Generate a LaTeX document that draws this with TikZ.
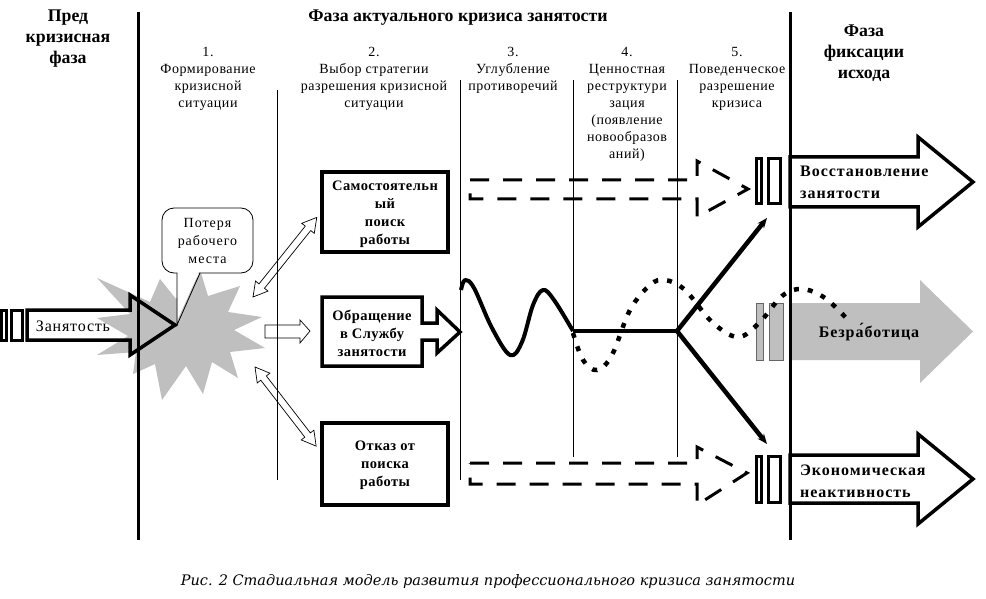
\documentclass[tikz,border=0pt]{standalone}
\usepackage{fontspec}
\setmainfont{Liberation Serif}
\newfontfamily\capfont{DejaVu Serif}
\usetikzlibrary{arrows.meta}
\begin{document}
\begin{tikzpicture}[x=1pt,y=-1pt,
  hdr/.style={font=\bfseries\fontsize{17.8}{21}\selectfont, align=center, inner sep=0},
  lbl/.style={font=\fontsize{14}{17}\selectfont\addfontfeatures{LetterSpace=4}, align=center, inner sep=0, anchor=north},
  boxtxt/.style={font=\bfseries\fontsize{14.5}{18}\selectfont\addfontfeatures{LetterSpace=3}, align=center, inner sep=0},
  widetxt/.style={font=\bfseries\fontsize{16}{22}\selectfont\addfontfeatures{LetterSpace=6}, inner sep=0},
  outtxt/.style={widetxt, align=left, anchor=north west},
  phase/.style={line width=3pt},
  colline/.style={line width=0.8pt},
  frame/.style={draw, line width=3.5pt, line join=miter},
  hollow/.style={draw, line width=0.7pt, fill=white},
  dasharrow/.style={draw, line width=3pt, dash pattern=on 19pt off 14pt},
  bar/.style={draw, line width=3pt, fill=white},
  graybar/.style={draw=black!60, line width=0.7pt, fill=black!25},
  wave/.style={line width=4pt},
  dotwave/.style={line width=4.5pt, dash pattern=on 5pt off 9pt},
  spear/.style={line width=4.5pt, -{Stealth[length=10pt,width=8pt]}},
]
\useasboundingbox[fill=white] (0,0) rectangle (986,599);

% ---- headers
\node[hdr, anchor=north] (hpre) at (68,10) {Пред\\кризисная\\фаза};
\node[hdr, anchor=base] (hact) at (458,22) {Фаза актуального кризиса занятости};
\node[hdr, anchor=north] (hfix) at (864,25) {Фаза\\фиксации\\исхода};

% ---- column labels
\node[lbl] (c1) at (208,47.5) {1.\\Формирование\\кризисной\\ситуации};
\node[lbl] (c2) at (374,47.5) {2.\\Выбор стратегии\\разрешения кризисной\\ситуации};
\node[lbl] (c3) at (513,47.5) {3.\\Углубление\\противоречий};
\node[lbl] (c4) at (627,47.5) {4.\\Ценностная\\реструктури\\зация\\(появление\\новообразов\\аний)};
\node[lbl] (c5) at (737,47.5) {5.\\Поведенческое\\разрешение\\кризиса};

% ---- explosion
\fill[black!25] (97,278) -- (150,302) -- (160,279) -- (176,299) -- (201,273) -- (208,296)
  -- (240,286) -- (228,312) -- (262,317) -- (234,330) -- (265,348) -- (230,352)
  -- (238,378) -- (212,362) -- (203,394) -- (186,366) -- (162,400) -- (155,364)
  -- (133,374) -- (136,352) -- (97,355) -- (128,336) -- (97,318) -- (130,314) -- cycle;

% ---- speech bubble
\node[draw, line width=0.8pt, fill=white, rounded corners=12pt, minimum width=91pt,
  minimum height=65pt, inner sep=0, font=\fontsize{14}{18}\selectfont\addfontfeatures{LetterSpace=7}, align=center]
  (bub) at (207.5,240.5) {Потеря\\рабочего\\места};
\fill[white] (177.4,271) -- (199.5,271) -- (177.4,320) -- cycle;
\coordinate (tailL) at (177,273);
\coordinate (tailR) at (200,273);
\coordinate (tailT) at (177,325);
\draw[line width=0.8pt] (tailL) -- (tailT) -- (tailR);

% ---- employment arrow
\draw[bar] (1.5,310) rectangle (6.5,340);
\draw[bar] (11.5,310) rectangle (22.5,340);
\draw[frame] (27,310) -- (130,310) -- (130,295) -- (175,325) -- (130,355) -- (130,340) -- (27,340) -- cycle;
\node[inner sep=0, anchor=base, font=\fontsize{16}{20}\selectfont\addfontfeatures{LetterSpace=5}] (emp) at (73,331) {Занятость};

% ---- hollow arrows from the explosion
\begin{scope}[shift={(253,297)}, rotate=51.3]
  \draw[hollow] (0,0) -- (14,-8) -- (14,-3.5) -- (88,-3.5) -- (88,-8) -- (102,0) -- (88,8) -- (88,3.5) -- (14,3.5) -- (14,8) -- cycle;
\end{scope}
\begin{scope}[shift={(255,367)}, rotate=-52.3]
  \draw[hollow] (0,0) -- (14,-8) -- (14,-3.5) -- (86,-3.5) -- (86,-8) -- (100,0) -- (86,8) -- (86,3.5) -- (14,3.5) -- (14,8) -- cycle;
\end{scope}
\draw[hollow] (265,325) -- (300,325) -- (300,320) -- (310,331) -- (300,343) -- (300,338) -- (265,338) -- cycle;

% ---- strategy boxes
\draw[frame] (322,172) rectangle (448,252);
\node[boxtxt] (bA) at (385,214.5) {Самостоятельн\\ый\\поиск\\работы};
\draw[frame] (322,297) -- (422,297) -- (422,323) -- (437,323) -- (437,310) -- (460,332)
  -- (437,353) -- (437,340) -- (422,340) -- (422,366) -- (322,366) -- cycle;
\node[boxtxt] (bB) at (372,333.5) {Обращение\\в Службу\\занятости};
\draw[frame] (322,423) rectangle (448,505);
\node[boxtxt] (bC) at (385,465) {Отказ от\\поиска\\работы};

% ---- dashed arrows
\draw[dasharrow] (470,180) -- (697,180) -- (697,161) -- (748,189) -- (697,217) -- (697,199) -- (470,199) -- cycle;
\draw[dasharrow] (470,463) -- (697,463) -- (697,447) -- (747,473) -- (697,505) -- (697,484) -- (470,484) -- cycle;

% ---- solid wave and fork
\draw[wave, line join=round] plot[smooth, tension=0.6] coordinates {(461,290) (465,280) (474,288) (492,328) (510,355) (522,342) (533,305) (543,290) (554,300) (573,331)};
\coordinate (fork) at (677,331);
\draw[wave] (573,331) -- (fork);
\coordinate (upend) at (767,218);
\coordinate (downend) at (767,444);
\draw[spear] (fork) -- (upend);
\draw[spear] (fork) -- (downend);

% ---- outcome arrows
\draw[bar] (756.5,158.5) rectangle (761.5,203.5);
\draw[bar] (768.5,158.5) rectangle (780.5,203.5);
\draw[frame] (790,157) -- (918,157) -- (918,137) -- (973,182) -- (918,227) -- (918,207) -- (790,207) -- cycle;
\node[outtxt] (oR) at (800,166) {Восстановление\\занятости};

\draw[graybar] (756,303) rectangle (763,360);
\draw[graybar] (769,303) rectangle (783,360);
\fill[black!25] (792,303) -- (920,303) -- (920,280) -- (973,331.5) -- (920,383) -- (920,360) -- (792,360) -- cycle;
\node[widetxt, anchor=base] (oU) at (869,337) {Безра́ботица};

\draw[bar] (756.5,456.5) rectangle (761.5,502.5);
\draw[bar] (768.5,456.5) rectangle (780.5,502.5);
\draw[frame] (790,455) -- (918,455) -- (918,434) -- (973,479) -- (918,524) -- (918,503) -- (790,503) -- cycle;
\node[outtxt] (oE) at (800,465) {Экономическая\\неактивность};

% ---- dotted wave (over the outcome area)
\draw[dotwave] plot[smooth, tension=0.6] coordinates {(573,333) (583,360) (597,370) (612,355) (630,310) (650,285) (665,280) (685,290) (712,322) (738,337) (760,322) (782,296) (802,289) (825,298) (848,320)};

% ---- phase and column lines
\draw[colline] (277,90) -- (277,480);
\draw[colline] (460,80) -- (460,480);
\draw[colline] (573,80) -- (573,457);
\draw[colline] (677,80) -- (677,457);
\draw[phase] (138,12) -- (138,540);
\draw[phase] (790,12) -- (790,540);

% ---- caption
\node[font=\capfont\itshape\fontsize{14.5}{18}\selectfont, inner sep=0] (cap) at (488,581)
  {Рис. 2 Стадиальная модель развития профессионального кризиса занятости};
\end{tikzpicture}
\end{document}
